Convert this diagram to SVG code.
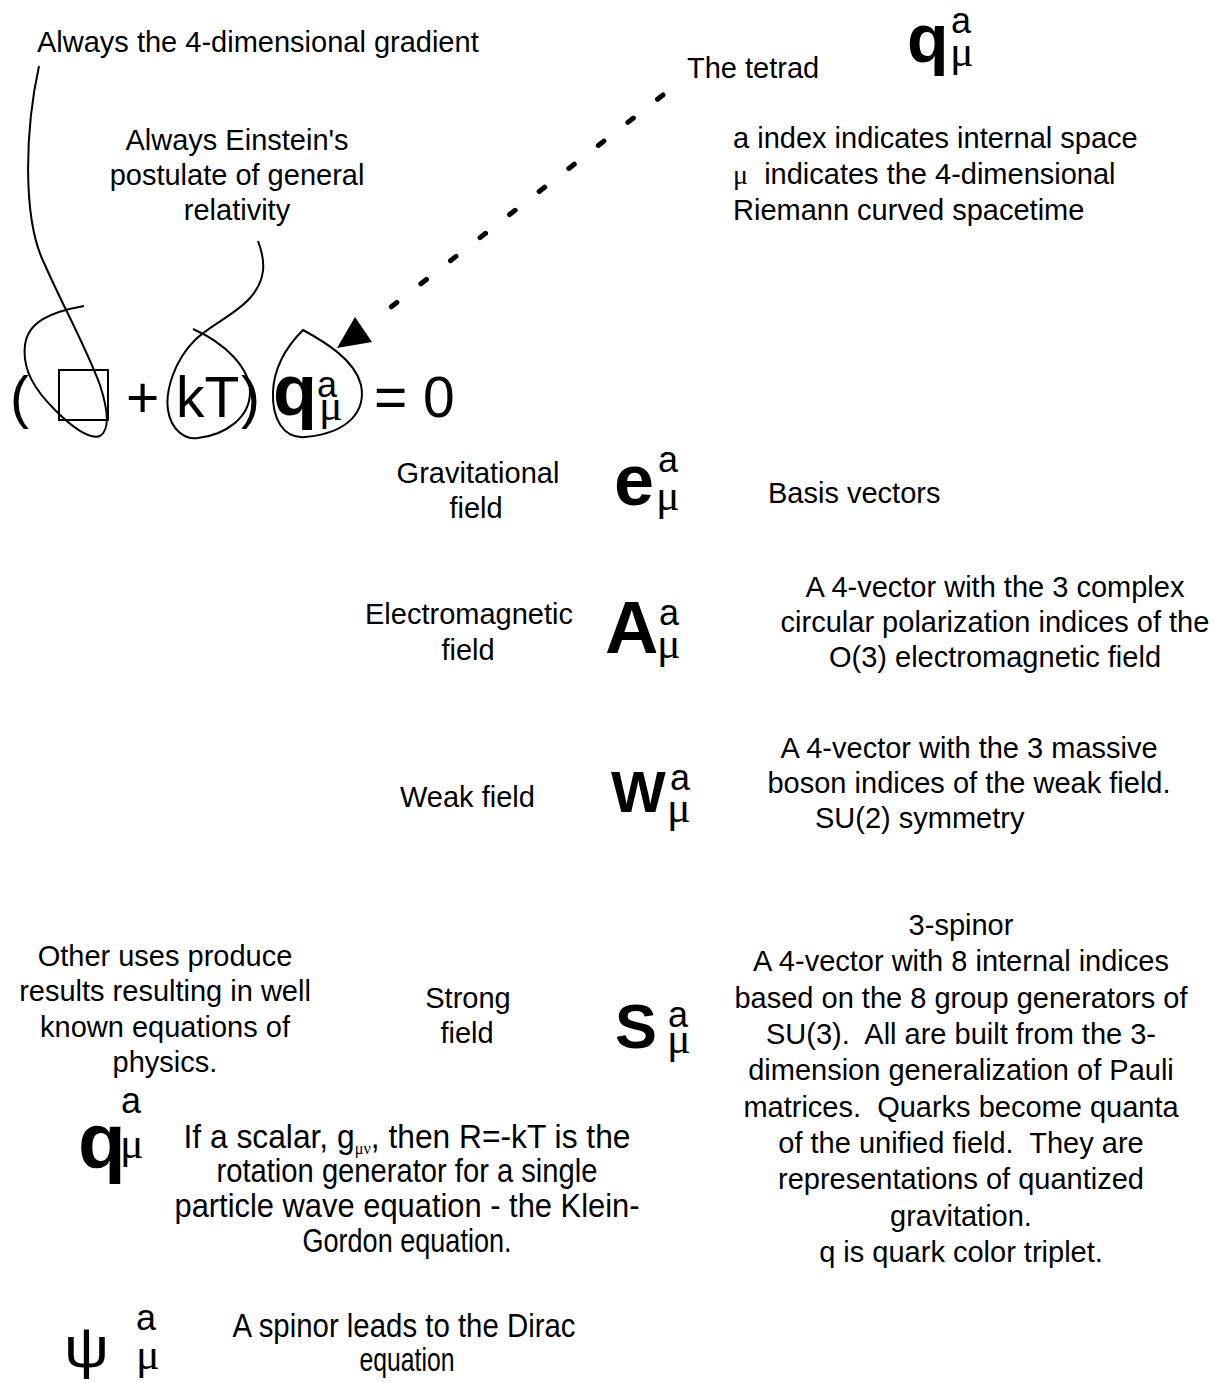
<svg xmlns="http://www.w3.org/2000/svg" width="1228" height="1383" viewBox="0 0 1228 1383">
<style>
text{font-family:"Liberation Sans",Arial,sans-serif;fill:#000;white-space:pre}
.t{font-size:29px}
.c{text-anchor:middle}
.n{font-size:33px}
.b{font-weight:bold}
.sup{font-size:36px;font-weight:normal}
.mu{font-family:"Liberation Serif","Times New Roman",serif;font-size:44px;font-weight:normal}
.eq{font-size:57px}
.ln{fill:none;stroke:#000;stroke-width:2}
</style>
<rect width="1228" height="1383" fill="#fff"/>
<g id="connectors">
<path class="ln" d="M39,66 C25,130 22,220 45,265 C60,300 85,345 100,385 C108,410 110,430 100,436 C88,440 70,425 55,410 C35,390 22,370 25,345 C28,322 50,312 84,306"/>
<path class="ln" d="M258,241 C266,262 266,280 250,298 C235,315 210,325 195,340 C175,360 165,390 168,410 C171,430 185,440 198,438 C225,435 250,418 250,392 C250,368 225,343 193,329"/>
<path class="ln" d="M303,330 C325,342 355,360 361,385 C366,410 350,433 305,437 C283,439 272,418 273,392 C274,365 288,345 303,330 Z"/>
<path d="M663,95 L368,325" fill="none" stroke="#000" stroke-width="5" stroke-linecap="round" stroke-dasharray="7 30.5"/>
<polygon points="337,348 355,317 372,342" fill="#000"/>
</g>
<g id="gradient-label"><text class="t" x="37" y="52">Always the 4-dimensional gradient</text></g>
<g id="einstein-label">
<text class="t c" x="237" y="150">Always Einstein's</text>
<text class="t c" x="237" y="185">postulate of general</text>
<text class="t c" x="237" y="220">relativity</text>
</g>
<g id="tetrad-label"><text class="t" x="687" y="78">The tetrad</text></g>
<g id="tetrad-symbol">
<text class="b" font-size="68"><tspan x="907" y="62">q</tspan><tspan class="sup" x="951" y="33">a</tspan><tspan class="mu" x="950" y="66" font-size="48">μ</tspan></text>
</g>
<g id="index-note">
<text class="t" x="733" y="148">a index indicates internal space</text>
<text class="t" x="733" y="184"><tspan font-family="Liberation Serif" font-size="28">μ</tspan>  indicates the 4-dimensional</text>
<text class="t" x="733" y="220">Riemann curved spacetime</text>
</g>
<g id="equation">
<text class="eq" x="10" y="417">(</text>
<rect x="59" y="370" width="49" height="50" fill="none" stroke="#000" stroke-width="2"/>
<text class="eq" x="126" y="417">+</text>
<text class="eq" x="176" y="417">kT</text>
<text class="eq" x="241" y="417">)</text>
<text class="b" font-size="72"><tspan x="273" y="415">q</tspan><tspan class="sup" x="317" y="397">a</tspan><tspan class="mu" x="319" y="420" font-size="42">μ</tspan></text>
<text class="eq" x="374" y="417">= 0</text>
</g>
<g id="gravitational">
<text class="t c" x="478" y="483">Gravitational</text>
<text class="t c" x="476" y="518">field</text>
<text class="b" font-size="72"><tspan x="614" y="505">e</tspan><tspan class="sup" x="658" y="472">a</tspan><tspan class="mu" x="656" y="510">μ</tspan></text>
<text class="t" x="768" y="503">Basis vectors</text>
</g>
<g id="electromagnetic">
<text class="t c" x="469" y="624">Electromagnetic</text>
<text class="t c" x="468" y="660">field</text>
<text class="b" font-size="74"><tspan x="605" y="653">A</tspan><tspan class="sup" x="659" y="625">a</tspan><tspan class="mu" x="657" y="658">μ</tspan></text>
<text class="t c" x="995" y="597">A 4-vector with the 3 complex</text>
<text class="t c" x="995" y="632">circular polarization indices of the</text>
<text class="t c" x="995" y="667">O(3) electromagnetic field</text>
</g>
<g id="weak">
<text class="t" x="400" y="807">Weak field</text>
<text class="b" font-size="58"><tspan x="611" y="812">W</tspan><tspan class="sup" x="670" y="790">a</tspan><tspan class="mu" x="667" y="822">μ</tspan></text>
<text class="t c" x="969" y="758">A 4-vector with the 3 massive</text>
<text class="t c" x="969" y="793">boson indices of the weak field.</text>
<text class="t" x="815" y="828">SU(2) symmetry</text>
</g>
<g id="other-uses">
<text class="t c" x="165" y="966">Other uses produce</text>
<text class="t c" x="165" y="1001">results resulting in well</text>
<text class="t c" x="165" y="1037">known equations of</text>
<text class="t c" x="165" y="1072">physics.</text>
</g>
<g id="strong">
<text class="t c" x="468" y="1008">Strong</text>
<text class="t c" x="467" y="1043">field</text>
<text class="b" font-size="63"><tspan x="615" y="1048">S</tspan><tspan class="sup" x="668" y="1027">a</tspan><tspan class="mu" x="667" y="1053">μ</tspan></text>
<text class="t c" x="961" y="935">3-spinor</text>
<text class="t c" x="961" y="971">A 4-vector with 8 internal indices</text>
<text class="t c" x="961" y="1008">based on the 8 group generators of</text>
<text class="t c" x="961" y="1044">SU(3).  All are built from the 3-</text>
<text class="t c" x="961" y="1080">dimension generalization of Pauli</text>
<text class="t c" x="961" y="1117">matrices.  Quarks become quanta</text>
<text class="t c" x="961" y="1153">of the unified field.  They are</text>
<text class="t c" x="961" y="1189">representations of quantized</text>
<text class="t c" x="961" y="1226">gravitation.</text>
<text class="t c" x="961" y="1262">q is quark color triplet.</text>
</g>
<g id="scalar">
<text class="b" font-size="78"><tspan x="78" y="1168">q</tspan><tspan class="sup" x="121" y="1113">a</tspan><tspan class="mu" x="120" y="1158" font-size="46">μ</tspan></text>
<text class="n c" x="407" y="1148" textLength="447" lengthAdjust="spacingAndGlyphs">If a scalar, g<tspan font-family="Liberation Serif" font-size="17" dy="6">μν</tspan><tspan dy="-6">, then R=-kT is the</tspan></text>
<text class="n c" x="407" y="1182" textLength="381" lengthAdjust="spacingAndGlyphs">rotation generator for a single</text>
<text class="n c" x="407" y="1217" textLength="465" lengthAdjust="spacingAndGlyphs">particle wave equation - the Klein-</text>
<text class="n c" x="407" y="1252" textLength="209" lengthAdjust="spacingAndGlyphs">Gordon equation.</text>
</g>
<g id="spinor">
<text x="64" y="1367" font-family="Liberation Serif" font-size="58" textLength="45" lengthAdjust="spacingAndGlyphs">ψ</text>
<text font-size="36"><tspan x="136" y="1330">a</tspan><tspan class="mu" x="136" y="1369" font-size="42">μ</tspan></text>
<text class="n c" x="404" y="1337" textLength="343" lengthAdjust="spacingAndGlyphs">A spinor leads to the Dirac</text>
<text class="n c" x="407" y="1371" textLength="95" lengthAdjust="spacingAndGlyphs">equation</text>
</g>
</svg>
